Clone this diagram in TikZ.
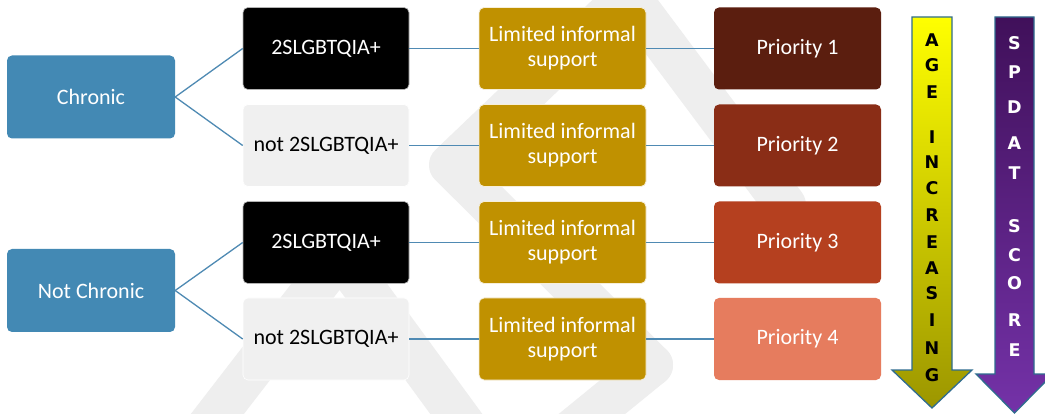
\documentclass[tikz,border=0pt]{standalone}
\usepackage{fontspec}
\setmainfont{Carlito}
\newfontfamily\arrowfont{DejaVu Sans}

\definecolor{chronicblue}{HTML}{4389B4}
\definecolor{linkblue}{HTML}{4F8AB3}
\definecolor{supportgold}{HTML}{C09100}
\definecolor{pone}{HTML}{5B1E0F}
\definecolor{ptwo}{HTML}{8A2D16}
\definecolor{pthree}{HTML}{B5401F}
\definecolor{pfour}{HTML}{E67C5E}
\definecolor{notgrey}{HTML}{F0F0F0}
\definecolor{wmgrey}{HTML}{EEEEEE}
\definecolor{arrowedge}{HTML}{2F6C8F}
\definecolor{agetop}{HTML}{FFFF00}
\definecolor{agebottom}{HTML}{9C9600}
\definecolor{spdattop}{HTML}{40105A}
\definecolor{spdatbottom}{HTML}{7432A8}

\tikzset{
  basebox/.style={rounded corners=5pt, inner sep=0pt, align=center,
    minimum height=82pt, font=\fontsize{22}{25}\selectfont},
  catbox/.style={basebox, fill=chronicblue, text=white, minimum width=168pt, minimum height=83pt},
  lgbox/.style={basebox, fill=black, draw=gray!60, line width=0.6pt, text=white, minimum width=166pt},
  notbox/.style={basebox, fill=notgrey, draw=white, line width=0.6pt, text=black, minimum width=166pt},
  supbox/.style={basebox, fill=supportgold, draw=white!85!supportgold, line width=0.8pt, text=white, minimum width=167pt},
  pribox/.style={basebox, text=white, minimum width=167pt},
  link/.style={draw=linkblue, line width=1.3pt},
  wm/.style={draw=wmgrey, line width=42pt, line cap=round, line join=round},
  bigarrow/.style={draw=arrowedge, line width=1.3pt, line join=miter},
  ageletter/.style={anchor=base, text=black, inner sep=0pt,
    font=\arrowfont\bfseries\fontsize{17.5}{18}\selectfont},
  spdatletter/.style={ageletter, text=white}
}

\begin{document}
\begin{tikzpicture}[x=1pt, y=-1pt]
  \fill[white] (0,0) rectangle (1045,414);
  \useasboundingbox (0,0) rectangle (1045,414);

  % faint background watermark bands
  \begin{scope}
    \clip (0,0) rectangle (1045,414);
    \draw[wm] (785,205) -- (628,-5) -- (450,165) -- (652,365);
    \draw[wm] (205,430) -- (340,255) -- (468,430);
    \draw[wm] (652,365) -- (560,440);
  \end{scope}

  % first level
  \node[catbox] (chronic) at (91,97) {Chronic};
  \node[catbox] (notchronic) at (91,290.5) {Not Chronic};

  % second level
  \node[lgbox]  (g1) at (326,48.5)  {2SLGBTQIA+};
  \node[notbox] (g2) at (326,145.5) {not 2SLGBTQIA+};
  \node[lgbox]  (g3) at (326,242.5) {2SLGBTQIA+};
  \node[notbox] (g4) at (326,339)   {not 2SLGBTQIA+};

  % third level
  \node[supbox] (s1) at (562.5,48.5)  {Limited informal\\support};
  \node[supbox] (s2) at (562.5,145.5) {Limited informal\\support};
  \node[supbox] (s3) at (562.5,242.5) {Limited informal\\support};
  \node[supbox] (s4) at (562.5,339)   {Limited informal\\support};

  % priorities
  \node[pribox, fill=pone]   (p1) at (797.5,48.5)  {Priority 1};
  \node[pribox, fill=ptwo]   (p2) at (797.5,145.5) {Priority 2};
  \node[pribox, fill=pthree] (p3) at (797.5,242.5) {Priority 3};
  \node[pribox, fill=pfour]  (p4) at (797.5,339)   {Priority 4};

  % connectors
  \draw[link] (chronic.east) -- (g1.west);
  \draw[link] (chronic.east) -- (g2.west);
  \draw[link] (notchronic.east) -- (g3.west);
  \draw[link] (notchronic.east) -- (g4.west);
  \foreach \i in {1,2,3,4} {
    \draw[link] (g\i.east) -- (s\i.west);
    \draw[link] (s\i.east) -- (p\i.west);
  }

  % AGE INCREASING arrow
  \shadedraw[bigarrow, top color=agetop, bottom color=agebottom]
    (912,17) -- (952,17) -- (952,370) -- (972,370) -- (932,408)
    -- (892,370) -- (912,370) -- cycle;
  \foreach \ch/\yy [count=\k] in {A/40,G/65,E/92,I/137,N/162,C/188,R/215,E/242,A/268,S/293,I/320,N/348,G/375}
    \node[ageletter] (age\k) at (932,\yy+6.5) {\ch};

  % SPDAT SCORE arrow
  \shadedraw[bigarrow, top color=spdattop, bottom color=spdatbottom]
    (995,17) -- (1034,17) -- (1034,374) -- (1053,374) -- (1014.5,413)
    -- (976,374) -- (995,374) -- cycle;
  \foreach \ch/\yy [count=\k] in {S/43,P/72,D/107,A/143,T/173,S/226,C/255,O/283,R/320,E/350}
    \node[spdatletter] (spdat\k) at (1014.5,\yy+6.5) {\ch};
\end{tikzpicture}
\end{document}
